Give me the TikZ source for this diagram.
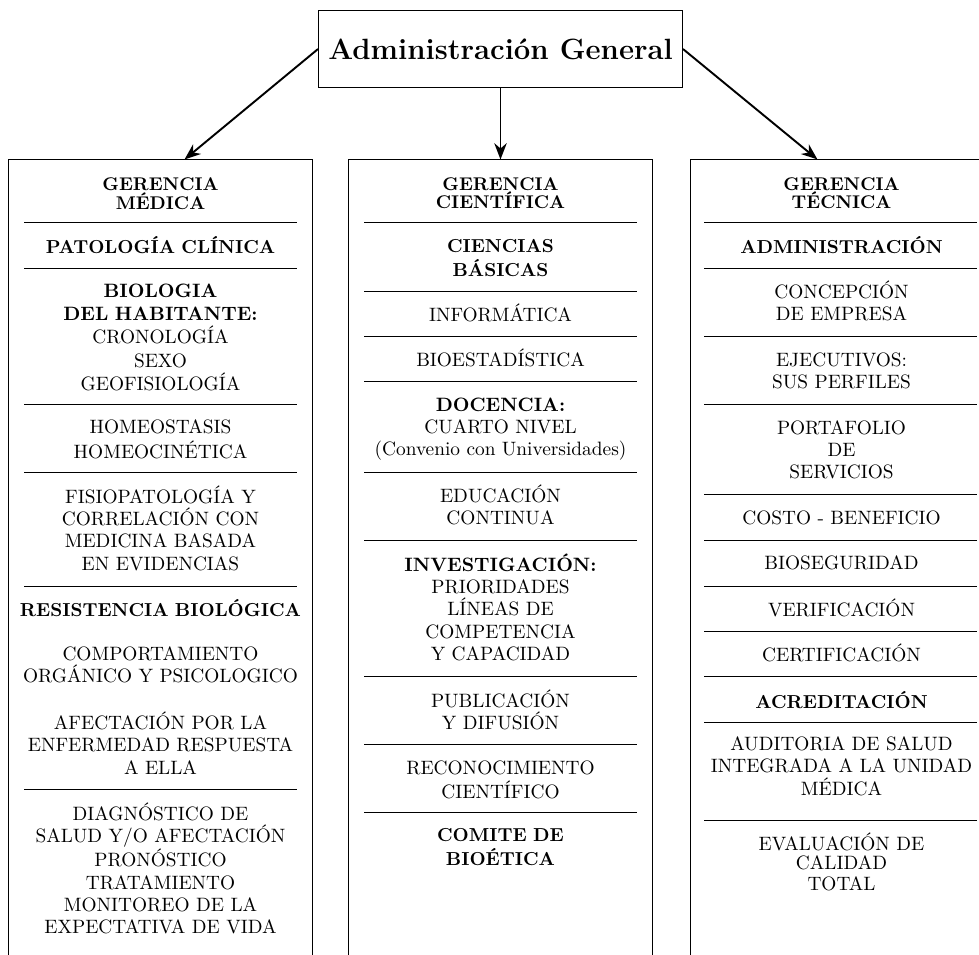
\documentclass[tikz,border=0pt]{standalone}
\usepackage{tikz}
\usetikzlibrary{arrows.meta}
\usetikzlibrary{calc}

\tikzset{
  item/.style={align=center, text width=155pt, inner sep=0pt,
    font=\fontsize{10.1}{11.6}\selectfont,
    execute at begin node=\vphantom{É}, execute at end node=\vphantom{(}},
  tit/.style={item, font=\fontsize{9.8}{12.4}\selectfont\bfseries},
  head/.style={item, font=\fontsize{9.6}{9.6}\selectfont\bfseries},
  col/.style={draw, line width=0.5pt, minimum width=158.2pt, minimum height=450pt, inner sep=0pt},
  sep/.style={line width=0.5pt},
  flecha/.style={-{Stealth[length=8.5pt,width=6.5pt]}, line width=1pt}
}

\begin{document}
\begin{tikzpicture}[x=0.522pt, y=-0.522pt]
\clip (0,0) rectangle (979,954);

\node (gen) at (500.5,49) [draw, line width=0.5pt, minimum width=190pt, minimum height=39.7pt, inner sep=0pt,
  font=\fontsize{15.3}{18}\selectfont\bfseries] {Administración General};

\node (med) at (160.5,591) [col] {};
\node (cie) at (500.5,591) [col] {};
\node (tec) at (841.5,591) [col] {};

\draw [flecha] (gen.west) -- ($(med.north)+(24,0)$);
\draw [flecha] (gen.south) -- (cie.north);
\draw [flecha] (gen.east) -- ($(tec.north)+(-24,0)$);

% separadores
\foreach \y in {222,268,404,472,586,789}
  \draw [sep] (24,\y) -- +(273,0);
\foreach \y in {222,291,336,381,472,540,676,744,812}
  \draw [sep] (364,\y) -- +(273,0);
\foreach \y in {222,268,336,404,494,540,586,631,676,722,820}
  \draw [sep] (704,\y) -- +(273,0);

% gerencia medica
\node (med0) at (160.5,194) [head] {GERENCIA\\MÉDICA};
\node (med1) at (160.5,247) [tit] {PATOLOGÍA CLÍNICA};
\node (med2) at (160.5,337.5) [item] {\textbf{BIOLOGIA}\\[0.6pt]\textbf{DEL HABITANTE:}\\[0.6pt]CRONOLOGÍA\\[0.6pt]SEXO\\[0.6pt]GEOFISIOLOGÍA};
\node (med3) at (160.5,439.5) [item] {HOMEOSTASIS\\[1.5pt]HOMEOCINÉTICA};
\node (med4) at (160.5,530.5) [item] {FISIOPATOLOGÍA Y\\CORRELACIÓN CON\\MEDICINA BASADA\\EN EVIDENCIAS};
\node (med5) at (160.5,610) [tit] {RESISTENCIA BIOLÓGICA};
\node (med6) at (160.5,665.5) [item] {COMPORTAMIENTO\\ORGÁNICO Y PSICOLOGICO};
\node (med7) at (160.5,745.5) [item] {AFECTACIÓN POR LA\\ENFERMEDAD RESPUESTA\\A ELLA};
\node (med8) at (160.5,870.5) [item] {DIAGNÓSTICO DE\\SALUD Y/O AFECTACIÓN\\PRONÓSTICO\\TRATAMIENTO\\MONITOREO DE LA\\EXPECTATIVA DE VIDA};

% gerencia cientifica
\node (cie0) at (500.5,193.5) [head] {GERENCIA\\CIENTÍFICA};
\node (cie1) at (500.5,258) [tit] {CIENCIAS\\BÁSICAS};
\node (cie2) at (500.5,315) [item] {INFORMÁTICA};
\node (cie3) at (500.5,360) [item] {BIOESTADÍSTICA};
\node (cie4) at (500.5,427) [item] {\textbf{DOCENCIA:}\\CUARTO NIVEL\\(Convenio con Universidades)};
\node (cie5) at (500.5,507.5) [item] {EDUCACIÓN\\CONTINUA};
\node (cie6) at (500.5,609.5) [item] {\textbf{INVESTIGACIÓN:}\\PRIORIDADES\\LÍNEAS DE\\COMPETENCIA\\Y CAPACIDAD};
\node (cie7) at (500.5,712.5) [item] {PUBLICACIÓN\\Y DIFUSIÓN};
\node (cie8) at (500.5,780) [item] {RECONOCIMIENTO\\[1pt]CIENTÍFICO};
\node (cie9) at (500.5,847.5) [tit] {COMITE DE\\BIOÉTICA};

% gerencia tecnica
\node (tec0) at (841.5,193.5) [head] {GERENCIA\\TÉCNICA};
\node (tec1) at (841.5,247) [tit] {ADMINISTRACIÓN};
\node (tec2) at (841.5,303.5) [item] {CONCEPCIÓN\\DE EMPRESA};
\node (tec3) at (841.5,371) [item] {EJECUTIVOS:\\SUS PERFILES};
\node (tec4) at (841.5,450) [item] {PORTAFOLIO\\DE\\SERVICIOS};
\node (tec5) at (841.5,518) [item] {COSTO - BENEFICIO};
\node (tec6) at (841.5,563) [item] {BIOSEGURIDAD};
\node (tec7) at (841.5,610) [item] {VERIFICACIÓN};
\node (tec8) at (841.5,655) [item] {CERTIFICACIÓN};
\node (tec9) at (841.5,702) [tit] {ACREDITACIÓN};
\node (tec10) at (841.5,766.5) [item] {AUDITORIA DE SALUD\\INTEGRADA A LA UNIDAD\\MÉDICA};
\node (tec11) at (841.5,864) [item] {EVALUACIÓN DE\\[-1.5pt]CALIDAD\\[-1pt]TOTAL};
\end{tikzpicture}
\end{document}
